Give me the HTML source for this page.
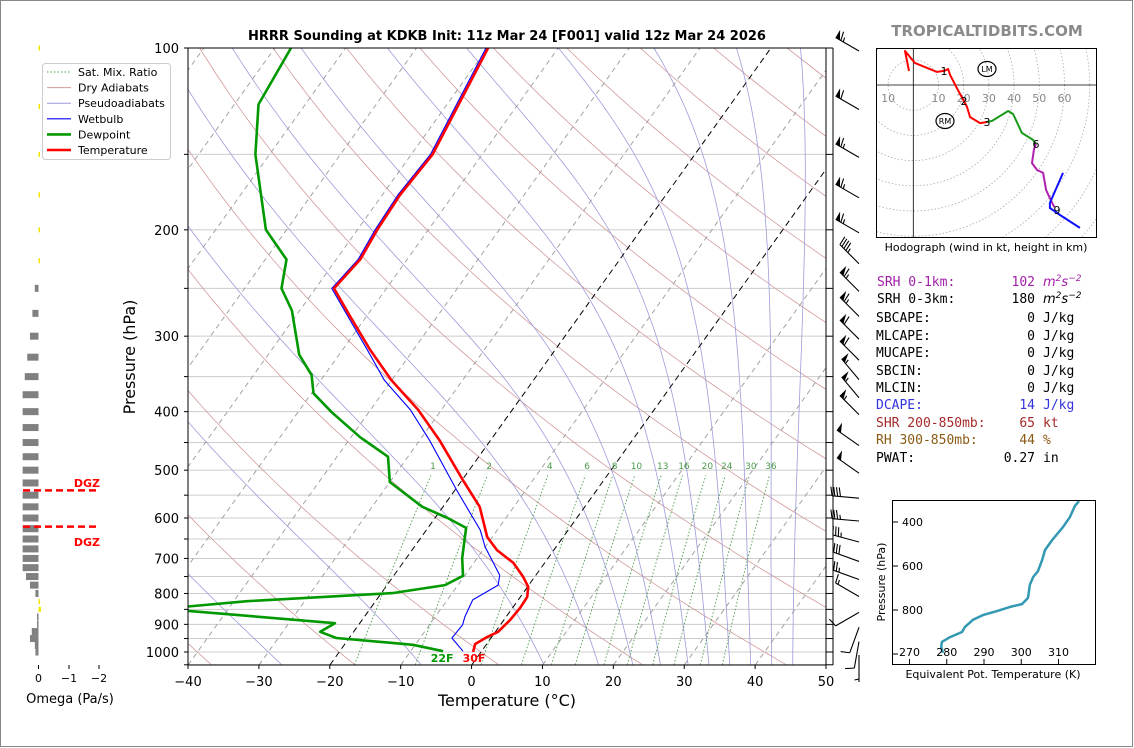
<!DOCTYPE html>
<html><head><meta charset="utf-8">
<style>
html,body{margin:0;padding:0;background:#fff;}
svg{display:block;font-family:"DejaVu Sans","Liberation Sans",sans-serif;}
.mono{font-family:"DejaVu Sans Mono","Liberation Mono",monospace;font-size:13px;}
</style></head>
<body>
<svg id="root" width="1134" height="748" viewBox="0 0 1134 748" xmlns="http://www.w3.org/2000/svg">
<rect x="0.5" y="0.5" width="1132" height="746" fill="#fff" stroke="#888"/>
<defs>
<clipPath id="mainClip"><rect x="188" y="48" width="638" height="617"/></clipPath>
<clipPath id="hodoClip"><rect x="876" y="48" width="220" height="190"/></clipPath>
<clipPath id="teClip"><rect x="892" y="500" width="204" height="165"/></clipPath>
</defs>
<text x="507" y="40" text-anchor="middle" font-size="13" font-weight="bold">HRRR Sounding at KDKB Init: 11z Mar 24 [F001] valid 12z Mar 24 2026</text>
<text x="987" y="36" text-anchor="middle" font-size="15" font-weight="bold" fill="#8a8a8a">TROPICALTIDBITS.COM</text>
<g id="mainBg" clip-path="url(#mainClip)"></g>
<g id="mainData" clip-path="url(#mainClip)"></g>
<g id="mainAxes"></g>
<g id="barbs"></g>
<g id="omega"></g>
<g id="legend"></g>
<g id="hodo"></g>
<g id="te"></g>
<g id="params" class="mono">
<text x="877" y="286" fill="#a020a8">SRH 0-1km:</text>
<text x="1035" y="286" fill="#a020a8" text-anchor="end">102</text>
<text x="1043" y="286" fill="#a020a8" font-family="DejaVu Sans" font-style="italic" font-size="13">m<tspan font-size="9" dy="-5">2</tspan><tspan dy="5">s</tspan><tspan font-size="9" dy="-5">−2</tspan></text>
<text x="877" y="303">SRH 0-3km:</text>
<text x="1035" y="303" text-anchor="end">180</text>
<text x="1043" y="303" font-family="DejaVu Sans" font-style="italic" font-size="13">m<tspan font-size="9" dy="-5">2</tspan><tspan dy="5">s</tspan><tspan font-size="9" dy="-5">−2</tspan></text>
<text x="876" y="322">SBCAPE:</text><text x="1035" y="322" text-anchor="end">0</text><text x="1043" y="322">J/kg</text>
<text x="876" y="340">MLCAPE:</text><text x="1035" y="340" text-anchor="end">0</text><text x="1043" y="340">J/kg</text>
<text x="876" y="357">MUCAPE:</text><text x="1035" y="357" text-anchor="end">0</text><text x="1043" y="357">J/kg</text>
<text x="876" y="375">SBCIN:</text><text x="1035" y="375" text-anchor="end">0</text><text x="1043" y="375">J/kg</text>
<text x="876" y="392">MLCIN:</text><text x="1035" y="392" text-anchor="end">0</text><text x="1043" y="392">J/kg</text>
<text x="876" y="409" fill="#3333dd">DCAPE:</text><text x="1035" y="409" fill="#3333dd" text-anchor="end">14</text><text x="1043" y="409" fill="#3333dd">J/kg</text>
<text x="876" y="427" fill="#a52a2a">SHR 200-850mb:</text><text x="1035" y="427" fill="#a52a2a" text-anchor="end">65</text><text x="1043" y="427" fill="#a52a2a">kt</text>
<text x="876" y="444" fill="#8b5a14">RH 300-850mb:</text><text x="1035" y="444" fill="#8b5a14" text-anchor="end">44</text><text x="1043" y="444" fill="#8b5a14">%</text>
<text x="876" y="462">PWAT:</text><text x="1035" y="462" text-anchor="end">0.27</text><text x="1043" y="462">in</text>
</g>
</svg>
<script>
// ---- data ----
const tempP = [1000,970,944,926,885,846,811,780,751,712,678,645,575,519,446,397,355,316,277,250,224,200,175,150,100];
const tempT = [-1.1,-1.6,-0.6,0.4,0.9,1.1,1.0,0.1,-1.6,-4.4,-8.0,-10.7,-14.8,-19.9,-27.2,-33.3,-40.0,-46.1,-52.5,-57.4,-56.6,-57.2,-57.5,-57.0,-59.9];
const wbP = [997,948,902,875,820,775,746,670,628,540,446,397,355,316,277,250,224,200,175,150,100];
const wbT = [-2.6,-5.5,-5.3,-5.8,-6.4,-4.3,-5.1,-10.0,-12.4,-19.7,-28.6,-34.4,-41.0,-46.5,-52.8,-57.7,-56.9,-57.5,-57.8,-57.3,-60.2];
const dewP = [997,973,948,926,896,855,842,824,799,775,748,699,623,600,575,523,475,441,401,373,348,322,272,250,224,200,150,124,100];
const dewT = [-5.4,-10.3,-21.8,-24.7,-23.5,-45.4,-46.5,-38.1,-18.4,-11.8,-10.2,-12.1,-14.6,-18.2,-22.9,-30.0,-32.8,-38.7,-45.2,-49.7,-51.8,-55.6,-61.1,-64.8,-67.0,-72.9,-82.0,-86.6,-87.7];
const mixRatios = [1,2,4,6,8,10,13,16,20,24,30,36];
const xTicks = [-40,-30,-20,-10,0,10,20,30,40,50];
const pLabels = [100,200,300,400,500,600,700,800,900,1000];
const barbP = [100,125,150,175,200,225,250,275,300,325,350,375,400,450,500,550,600,650,700,750,800,850,900,950,1000];
const barbDir = [300,300,300,300,300,315,315,315,315,315,320,320,315,305,305,275,275,285,290,290,300,240,200,190,180];
const barbSpd = [65,60,65,65,65,45,65,65,60,60,55,55,55,50,50,40,35,35,30,25,15,10,10,10,5];
const omegaP = [100,125,150,175,200,225,250,275,300,325,350,375,400,425,450,475,500,525,550,575,600,625,650,675,700,725,750,775,800,825,850,875,900,925,950,975,1000];
const omegaV = [-0.02,-0.03,-0.02,-0.02,-0.04,-0.01,0.12,0.2,0.28,0.37,0.45,0.52,0.52,0.52,0.52,0.52,0.52,0.52,0.52,0.52,0.52,0.52,0.52,0.52,0.52,0.52,0.41,0.28,0.1,-0.05,-0.08,0.02,0.04,0.22,0.28,0.12,0.1];
const hodoRedU = [-1.7,-3.3,0.7,9.4,12.2,13.8,14.6,17.7,19.7,21.3,22.5,26.5,29.2];
const hodoRedV = [5.6,13.5,8.7,5.2,5.6,6.3,4.0,-2.0,-5.6,-8.7,-12.7,-15.1,-14.7];
const hodoGreenU = [29.2,31.2,37.6,39.6,43.1,47.5,48.7];
const hodoGreenV = [-14.7,-14.3,-10.3,-11.5,-19.0,-21.8,-23.4];
const hodoMagU = [48.7,47.9,47.1,49.1,51.5,52.7,55.1,56.0];
const hodoMagV = [-23.4,-25.4,-31.0,-33.7,-34.9,-41.7,-46.8,-48.5];
const hodoBlueU = [59.4,54.2,54.2,58.2,66.1];
const hodoBlueV = [-34.9,-46.8,-48.8,-51.6,-56.7];
const teP = [995,968,945,923,900,877,845,823,805,786,773,745,686,650,623,573,527,482,423,377,327,305];
const teK = [279.0,278.5,278.7,280.9,284.1,284.9,287.0,289.7,293.5,297.0,300.2,301.8,302.3,303.2,304.5,305.6,306.4,308.3,311.2,313.1,314.4,315.5];
const dryT0 = [-40,-20,0,20,40,60,80,100,120,140,160,180,200,220];
const moistT0 = [-50,-30,-10,8,16,21,25,29,32,35,38,41,44];

// ---- helpers ----
const NS='http://www.w3.org/2000/svg';
function mk(parent, tag, attrs, txt){const e=document.createElementNS(NS,tag);for(const k in attrs)e.setAttribute(k,attrs[k]);if(txt!==undefined)e.textContent=txt;parent.appendChild(e);return e;}
function yP(p){return 48+604*Math.log10(p/100);}
function xT(T,p){return 188+(T+40)*7.0889+(665-yP(p))*0.715;}
function pathFrom(ps,ts){return ps.map((p,i)=>(i?'L':'M')+xT(ts[i],p).toFixed(1)+' '+yP(p).toFixed(1)).join(' ');}

const bg=document.getElementById('mainBg');
for(let p=100;p<=1050;p+=50){
  const l=mk(bg,'line',{x1:188,x2:826,y1:yP(p),y2:yP(p),stroke:'#cccccc','stroke-width':1});
  
  
}
dryT0.forEach(t0=>{
  const th=t0+273.15;let d='';
  for(let p=1050;p>=95;p-=10){const T=th*Math.pow(p/1000,0.2857)-273.15;d+=(d?'L':'M')+xT(T,p).toFixed(1)+' '+yP(p).toFixed(1);}
  const e=mk(bg,'path',{d:d,fill:'none',stroke:'#d49a9a','stroke-width':0.8});
  
  
});
function esat(T){return 6.112*Math.exp(17.67*T/(T+243.5));}
function mlapse(T,p){const Tk=T+273.15;const rs=0.622*esat(T)/(p-esat(T));const Rd=287.04,Lv=2.501e6,Cp=1005.7;
  return (1/p)*(Rd*Tk+Lv*rs)/(Cp+Lv*Lv*rs*0.622/(Rd*Tk*Tk));}
moistT0.forEach(t0=>{
  let T=t0;
  for(let p=1000;p<1050;p+=5){T+=mlapse(T,p)*5;}
  let pts2=[[1050,T]];
  for(let p=1050;p>100;p-=5){T-=mlapse(T,p)*5;pts2.push([p-5,T]);}
  const d=pts2.map((a,i)=>(i?'L':'M')+xT(a[1],a[0]).toFixed(1)+' '+yP(a[0]).toFixed(1)).join(' ');
  const e=mk(bg,'path',{d:d,fill:'none',stroke:'#9c9cdc','stroke-width':0.8});
  
  
});
for(let t=-130;t<=50;t+=10){
  const hi=(t===0||t===-20);
  const e=mk(bg,'line',{x1:xT(t,1050),y1:665,x2:xT(t,100),y2:48,stroke:hi?'#000':'#999','stroke-width':hi?1:0.9,'stroke-dasharray':hi?'6,4':'5,4'});
  
  
}
function tdFromW(w,p){const e=w*p/(622+w);const l=Math.log(e/6.112);return 243.5*l/(17.67-l);}
mixRatios.forEach(w=>{
  let d='';for(let p=1050;p>=505;p-=15){d+=(d?'L':'M')+xT(tdFromW(w,p),p).toFixed(1)+' '+yP(p).toFixed(1);}
  const e=mk(bg,'path',{d:d,fill:'none',stroke:'#4a9a4a','stroke-width':0.9,'stroke-dasharray':'1.5,2'});
  
  
  const t=mk(bg,'text',{x:xT(tdFromW(w,500),500),y:469,'text-anchor':'middle','font-size':9,fill:'#4a9a4a'},String(w));
  
  
});

const md=document.getElementById('mainData');
let e;
e=mk(md,'path',{d:pathFrom(wbP,wbT),fill:'none',stroke:'#0000ff','stroke-width':1.1});


e=mk(md,'path',{d:pathFrom(dewP,dewT),fill:'none',stroke:'#009900','stroke-width':2.6,'stroke-linejoin':'round'});


e=mk(md,'path',{d:pathFrom(tempP,tempT),fill:'none',stroke:'#ff0000','stroke-width':2.6,'stroke-linejoin':'round'});


const ax=document.getElementById('mainAxes');
e=mk(ax,'text',{x:xT(dewT[0],dewP[0])-1,y:662,'text-anchor':'middle','font-size':11,'font-weight':'bold',fill:'#009900'},'22F');


e=mk(ax,'text',{x:xT(tempT[0],tempP[0])+1,y:662,'text-anchor':'middle','font-size':11,'font-weight':'bold',fill:'#ff0000'},'30F');



e=mk(ax,'rect',{x:188,y:48,width:638,height:617,fill:'none',stroke:'#000','stroke-width':1});


xTicks.forEach(t=>{
  const x=188+(t+40)*7.0889;
  mk(ax,'line',{x1:x,x2:x,y1:665,y2:669,stroke:'#000'});
  const tx=mk(ax,'text',{x:x,y:686,'text-anchor':'middle','font-size':13},t<0?'−'+(-t):String(t));
  
  
});
for(let p=100;p<=1050;p+=50){
  mk(ax,'line',{x1:184,x2:188,y1:yP(p),y2:yP(p),stroke:'#000'});
  mk(ax,'line',{x1:826,x2:833,y1:yP(p),y2:yP(p),stroke:'#000'});
}
pLabels.forEach(p=>{
  const tx=mk(ax,'text',{x:179,y:yP(p)+5,'text-anchor':'end','font-size':13},String(p));
  
  
});
e=mk(ax,'text',{x:507,y:706,'text-anchor':'middle','font-size':16},'Temperature (°C)');


e=mk(ax,'text',{x:135,y:357,'text-anchor':'middle','font-size':16,transform:'rotate(-90 135 357)'},'Pressure (hPa)');


mk(ax,'line',{x1:826,x2:826,y1:48,y2:665,stroke:'#000'});
mk(ax,'line',{x1:833,x2:833,y1:48,y2:665,stroke:'#000'});

// wind barbs
const bb=document.getElementById('barbs');
barbP.forEach((p,i)=>{
  const dir=barbDir[i]*Math.PI/180, spd=barbSpd[i];
  const ux=Math.sin(dir), uy=-Math.cos(dir);
  const px=-uy, py=ux;
  const tx=859, ty=yP(p)+3;
  const L=27;
  const g=mk(bb,'g',{});
  
  
  const ex=tx+ux*L, ey=ty+uy*L;
  mk(g,'line',{x1:tx,y1:ty,x2:ex,y2:ey,stroke:'#000','stroke-width':1.1});
  let s=spd, pos=L;
  let flags=Math.floor(s/50); s-=flags*50;
  let full=Math.floor(s/10); s-=full*10;
  let half=s>=5?1:0;
  for(let k=0;k<flags;k++){
    const ax1=tx+ux*pos, ay1=ty+uy*pos, ax2=tx+ux*(pos-5), ay2=ty+uy*(pos-5);
    const apx=tx+ux*(pos)+px*9, apy=ty+uy*(pos)+py*9;
    mk(g,'polygon',{points:`${ax1},${ay1} ${apx},${apy} ${ax2},${ay2}`,fill:'#000'});
    pos-=6;
  }
  for(let k=0;k<full;k++){
    const bx=tx+ux*pos, by=ty+uy*pos;
    mk(g,'line',{x1:bx,y1:by,x2:bx+px*9+ux*2,y2:by+py*9+uy*2,stroke:'#000','stroke-width':1.1});
    pos-=2.8;
  }
  if(half){
    if(flags===0&&full===0)pos-=3;
    const bx=tx+ux*pos, by=ty+uy*pos;
    mk(g,'line',{x1:bx,y1:by,x2:bx+px*4.5+ux*1,y2:by+py*4.5+uy*1,stroke:'#000','stroke-width':1.1});
  }
});

// omega panel
const om=document.getElementById('omega');
omegaP.forEach((p,i)=>{
  const v=omegaV[i];const w=Math.max(Math.abs(v)*30.5,1.5);
  const y=yP(p);
  const x=v>0?38.5-w:38.5;
  const r=mk(om,'rect',{x:x,y:y-(v>0?3.5:2.5),width:w,height:v>0?7:5,fill:v>0?'#808080':'#f2e600'});
  
  
});
[[yP(540),483],[yP(620),542]].forEach((a,i)=>{
  const l=mk(om,'line',{x1:23,x2:99,y1:a[0],y2:a[0],stroke:'#ff0000','stroke-width':2.5,'stroke-dasharray':'7,4'});
  
  
  const t=mk(om,'text',{x:100,y:a[1]+4,'text-anchor':'end','font-size':11,'font-weight':'bold',fill:'#ff0000'},'DGZ');
  
  
});
[['0',38.5],['−1',69],['−2',99]].forEach(a=>{
  mk(om,'line',{x1:a[1],x2:a[1],y1:665,y2:669,stroke:'#000'});
  const t=mk(om,'text',{x:a[1],y:682,'text-anchor':'middle','font-size':11},a[0]);
  
  
});
e=mk(om,'text',{x:70,y:703,'text-anchor':'middle','font-size':13},'Omega (Pa/s)');



// legend
const lg=document.getElementById('legend');
mk(lg,'rect',{x:42.5,y:63.5,width:128,height:96,rx:3,fill:'#fff',stroke:'#cccccc'});
[['Sat. Mix. Ratio','#4a9a4a',1,'1.5,2'],['Dry Adiabats','#d49a9a',1,''],['Pseudoadiabats','#9c9cdc',1,''],['Wetbulb','#0000ff',1.2,''],['Dewpoint','#009900',2.6,''],['Temperature','#ff0000',2.6,'']].forEach((a,i)=>{
  const y=72+i*15.6;
  const g=mk(lg,'g',{});
  
  
  const at={x1:47,x2:71,y1:y,y2:y,stroke:a[1],'stroke-width':a[2]};if(a[3])at['stroke-dasharray']=a[3];
  mk(g,'line',at);
  mk(g,'text',{x:78,y:y+4,'font-size':11},a[0]);
});

// hodograph
const hd=document.getElementById('hodo');
const HX=913.3,HY=85,HS=2.52;
const hc=mk(hd,'g',{'clip-path':'url(#hodoClip)'});
for(let r=10;r<=90;r+=10){
  const c=mk(hc,'circle',{cx:HX,cy:HY,r:r*HS,fill:'none',stroke:'#aaa','stroke-width':0.8,'stroke-dasharray':'1.5,2'});
  
  
}
mk(hc,'line',{x1:876,x2:1096,y1:HY,y2:HY,stroke:'#000','stroke-width':0.8});
mk(hc,'line',{x1:HX,x2:HX,y1:48,y2:238,stroke:'#000','stroke-width':0.8});
[['10',-10],['10',10],['20',20],['30',30],['40',40],['50',50],['60',60]].forEach(a=>{
  const t=mk(hc,'text',{x:HX+a[1]*HS,y:102,'text-anchor':'middle','font-size':11,fill:'#888'},a[0]);
  
  
});
function hpath(us,vs){return us.map((u,i)=>(i?'L':'M')+(HX+u*HS).toFixed(1)+' '+(HY-vs[i]*HS).toFixed(1)).join(' ');}
[[hodoRedU,hodoRedV,'#ff0000','hodograph-0-3km'],[hodoGreenU,hodoGreenV,'#1a9a1a','hodograph-3-6km'],[hodoMagU,hodoMagV,'#b020b0','hodograph-6-9km'],[hodoBlueU,hodoBlueV,'#1010ff','hodograph-9-12km']].forEach(a=>{
  const p=mk(hc,'path',{d:hpath(a[0],a[1]),fill:'none',stroke:a[2],'stroke-width':2,'stroke-linejoin':'round'});
  
  
});
[['1',944,71],['2',964,101],['3',987,122],['6',1036,144],['9',1057,210]].forEach(a=>{
  const t=mk(hc,'text',{x:a[1],y:a[2]+4,'text-anchor':'middle','font-size':11},a[0]);
  
  
});
[['LM',987,69],['RM',945,121]].forEach(a=>{
  const g=mk(hc,'g',{});
  
  
  mk(g,'ellipse',{cx:a[1],cy:a[2],rx:9,ry:7.5,fill:'none',stroke:'#000','stroke-width':1.2});
  mk(g,'text',{x:a[1],y:a[2]+3,'text-anchor':'middle','font-size':8},a[0]);
});
mk(hd,'rect',{x:876.5,y:48.5,width:220,height:189,fill:'none',stroke:'#000'});
e=mk(hd,'text',{x:986,y:251,'text-anchor':'middle','font-size':11},'Hodograph (wind in kt, height in km)');



// theta-e panel
const te=document.getElementById('te');
function teX(k){return 909.5+(k-270)*3.725;}
function teY(p){return 522+(p-400)*0.22;}
const tc=mk(te,'g',{'clip-path':'url(#teClip)'});
e=mk(tc,'path',{d:teP.map((p,i)=>(i?'L':'M')+teX(teK[i]).toFixed(1)+' '+teY(p).toFixed(1)).join(' '),fill:'none',stroke:'#3399b3','stroke-width':2.5,'stroke-linejoin':'round'});


mk(te,'rect',{x:892.5,y:500.5,width:203,height:164,fill:'none',stroke:'#000'});
[400,600,800,1000].forEach(p=>{
  mk(te,'line',{x1:892,x2:898,y1:teY(p),y2:teY(p),stroke:'#000'});
  if(p<1000){const t=mk(te,'text',{x:902,y:teY(p)+4,'font-size':11},String(p));
  
  }
});
[270,280,290,300,310].forEach(k=>{
  mk(te,'line',{x1:teX(k),x2:teX(k),y1:665,y2:659,stroke:'#000'});
  const t=mk(te,'text',{x:teX(k),y:656,'text-anchor':'middle','font-size':11},String(k));
  
  
});
e=mk(te,'text',{x:993,y:678,'text-anchor':'middle','font-size':11},'Equivalent Pot. Temperature (K)');


e=mk(te,'text',{x:885,y:582,'text-anchor':'middle','font-size':11,transform:'rotate(-90 885 582)'},'Pressure (hPa)');


</script>
</body></html>
